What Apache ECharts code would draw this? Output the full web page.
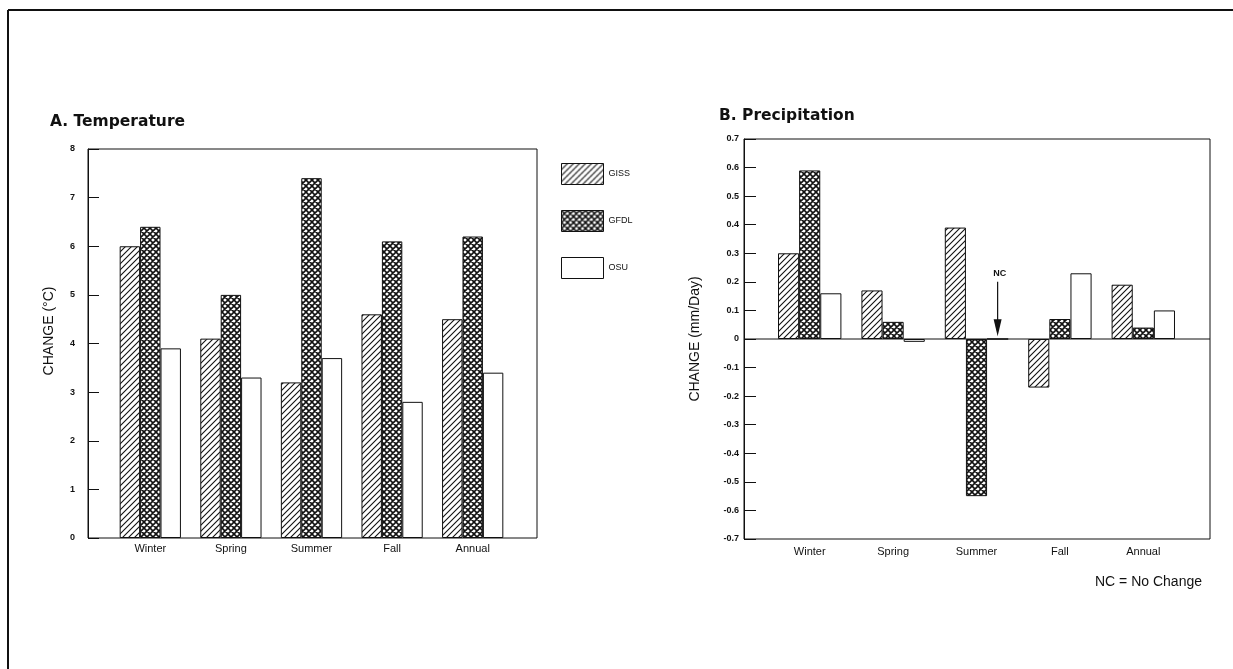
<!DOCTYPE html>
<html>
<head>
<meta charset="utf-8">
<script src="https://cdn.jsdelivr.net/npm/echarts@6/dist/echarts.min.js"></script>
<style>html,body{margin:0;padding:0;background:#fff}#c{width:1233px;height:669px}</style>
</head>
<body>
<div id="c"></div>
<script>
const categories = ['Winter', 'Spring', 'Summer', 'Fall', 'Annual'];
const seriesNames = ['GISS', 'GFDL', 'OSU'];
const tempGISS = [6.0, 4.1, 3.2, 4.6, 4.5];
const tempGFDL = [6.4, 5.0, 7.4, 6.1, 6.2];
const tempOSU  = [3.9, 3.3, 3.7, 2.8, 3.4];
const precGISS = [0.30, 0.17, 0.39, -0.17, 0.19];
const precGFDL = [0.59, 0.06, -0.55, 0.07, 0.04];
const precOSU  = [0.16, -0.01, 0, 0.23, 0.10];
const tempAxis = [0, 8, 1];        // min, max, interval
const precAxis = [-0.7, 0.7, 0.1]; // min, max, interval
const ncArrow = [0.2, 0.01];       // NC arrow from / to value (Summer, OSU)

const INK = '#111';
const FONT = '"Liberation Sans", Arial, sans-serif';
const TFONT = '"DejaVu Sans", "Liberation Sans", sans-serif';

function hatchPattern() {
  const s = 6, c = document.createElement('canvas');
  c.width = s; c.height = s;
  const g = c.getContext('2d');
  g.fillStyle = '#fff'; g.fillRect(0, 0, s, s);
  g.strokeStyle = INK; g.lineWidth = 1.1;
  g.beginPath();
  g.moveTo(0, s); g.lineTo(s, 0);
  g.moveTo(-1, 1); g.lineTo(1, -1);
  g.moveTo(s - 1, s + 1); g.lineTo(s + 1, s - 1);
  g.stroke();
  return c;
}
function crossPattern() {
  const s = 6, c = document.createElement('canvas');
  c.width = s; c.height = s;
  const g = c.getContext('2d');
  g.fillStyle = '#fff'; g.fillRect(0, 0, s, s);
  g.strokeStyle = INK; g.lineWidth = 1.6;
  g.beginPath();
  g.moveTo(0, s); g.lineTo(s, 0);
  g.moveTo(-1, 1); g.lineTo(1, -1);
  g.moveTo(s - 1, s + 1); g.lineTo(s + 1, s - 1);
  g.moveTo(0, 0); g.lineTo(s, s);
  g.moveTo(-1, s - 1); g.lineTo(1, s + 1);
  g.moveTo(s - 1, -1); g.lineTo(s + 1, 1);
  g.stroke();
  return c;
}
const fills = [
  { image: hatchPattern(), repeat: 'repeat' },
  { image: crossPattern(), repeat: 'repeat' },
  '#fff'
];

const chart = echarts.init(document.getElementById('c'), null, { renderer: 'canvas' });

function barSeries(name, data, idx, axisIdx) {
  return {
    name: name, type: 'bar', data: data,
    xAxisIndex: axisIdx, yAxisIndex: axisIdx,
    barGap: '0%', barCategoryGap: '24%',
    itemStyle: { color: fills[idx], borderColor: INK, borderWidth: 1 },
    emphasis: { disabled: true },
    animation: false
  };
}

const tickLabel = { color: INK, fontFamily: FONT, fontSize: 9, fontWeight: 'bold' };
const catLabel = { color: INK, fontFamily: FONT, fontSize: 11 };

chart.setOption({
  animation: false,
  backgroundColor: '#fff',
  title: [
    { text: 'A. Temperature', left: 50, top: 114, padding: 0,
      textStyle: { fontFamily: TFONT, fontSize: 15.5, fontWeight: 'bold', color: INK } },
    { text: 'B. Precipitation', left: 719, top: 108, padding: 0,
      textStyle: { fontFamily: TFONT, fontSize: 15.5, fontWeight: 'bold', color: INK } }
  ],
  legend: {
    data: seriesNames.map(n => ({ name: n, icon: 'rect' })), orient: 'vertical', left: 561, top: 163, padding: 0,
    itemWidth: 42, itemHeight: 21, itemGap: 25,
    itemStyle: { borderWidth: 1, borderColor: INK },
    textStyle: { fontFamily: FONT, fontSize: 9, color: INK },
    selectedMode: false
  },
  grid: [
    { left: 110, top: 149, width: 403, height: 389 },
    { left: 768, top: 139, width: 417, height: 400 }
  ],
  xAxis: [
    { type: 'category', data: categories, gridIndex: 0,
      axisLine: { show: false }, axisTick: { show: false },
      axisLabel: Object.assign({ margin: 5 }, catLabel) },
    { type: 'category', data: categories, gridIndex: 1, position: 'bottom',
      axisLine: { show: false, onZero: false }, axisTick: { show: false },
      axisLabel: Object.assign({ margin: 7 }, catLabel) }
  ],
  yAxis: [
    { type: 'value', gridIndex: 0, min: tempAxis[0], max: tempAxis[1], interval: tempAxis[2],
      offset: 22, splitLine: { show: false },
      axisLine: { show: true, lineStyle: { color: INK, width: 1 } },
      axisTick: { show: true, inside: true, length: 11, lineStyle: { color: INK } },
      axisLabel: Object.assign({ margin: 13 }, tickLabel) },
    { type: 'value', gridIndex: 1, min: precAxis[0], max: precAxis[1], interval: precAxis[2],
      offset: 24, splitLine: { show: false },
      name: 'CHANGE (mm/Day)', nameLocation: 'middle', nameGap: 42,
      nameTextStyle: { fontFamily: FONT, fontSize: 14, color: INK },
      axisLine: { show: true, lineStyle: { color: INK, width: 1 } },
      axisTick: { show: true, inside: true, length: 12, lineStyle: { color: INK } },
      axisLabel: Object.assign({ margin: 5, formatter: v => (Math.abs(v) < 1e-9 ? '0' : v.toFixed(1)) }, tickLabel) }
  ],
  series: [
    barSeries('GISS', tempGISS, 0, 0),
    barSeries('GFDL', tempGFDL, 1, 0),
    barSeries('OSU', tempOSU, 2, 0),
    barSeries('GISS', precGISS, 0, 1),
    barSeries('GFDL', precGFDL, 1, 1),
    barSeries('OSU', precOSU, 2, 1)
  ]
});

// decorations derived from the axes
const z0 = chart.convertToPixel({ gridIndex: 1 }, ['Summer', 0]);
const w0 = chart.convertToPixel({ gridIndex: 1 }, ['Winter', 0]);
const w1 = chart.convertToPixel({ gridIndex: 1 }, ['Spring', 0]);
const band = w1[0] - w0[0];
const barW = band * 0.76 / 3;
const arrowX = z0[0] + barW;
const aTop = chart.convertToPixel({ gridIndex: 1 }, ['Summer', ncArrow[0]])[1];
const aTip = chart.convertToPixel({ gridIndex: 1 }, ['Summer', ncArrow[1]])[1];
const zeroY = z0[1];

const tTop = chart.convertToPixel({ gridIndex: 0 }, ['Winter', tempAxis[1]])[1];
const tBot = chart.convertToPixel({ gridIndex: 0 }, ['Winter', tempAxis[0]])[1];
const pTop = chart.convertToPixel({ gridIndex: 1 }, ['Winter', precAxis[1]])[1];
const pBot = chart.convertToPixel({ gridIndex: 1 }, ['Winter', precAxis[0]])[1];

const line = { stroke: INK, lineWidth: 1 };
chart.setOption({
  graphic: [
    // outer frame
    { type: 'line', shape: { x1: 8, y1: 10, x2: 1233, y2: 10 }, style: { stroke: INK, lineWidth: 2 }, silent: true },
    { type: 'line', shape: { x1: 8, y1: 10, x2: 8, y2: 669 }, style: { stroke: INK, lineWidth: 2 }, silent: true },
    // panel A frame
    { type: 'rect', shape: { x: 88, y: tTop, width: 449, height: tBot - tTop }, style: { fill: null, stroke: INK, lineWidth: 1 }, silent: true, z: 10 },
    // panel B frame
    { type: 'rect', shape: { x: 744, y: pTop, width: 466, height: pBot - pTop }, style: { fill: null, stroke: INK, lineWidth: 1 }, silent: true, z: 10 },
    // zero line
    { type: 'line', shape: { x1: 744, y1: zeroY, x2: 1210, y2: zeroY }, style: line, silent: true, z: 10 },
    // y name panel A
    { type: 'text', x: 49, y: 331, rotation: Math.PI / 2,
      style: { text: 'CHANGE (°C)', fontFamily: FONT, fontSize: 14, fill: INK, align: 'center', verticalAlign: 'middle' }, silent: true },
    // NC arrow
    { type: 'line', shape: { x1: arrowX, y1: aTop, x2: arrowX, y2: aTip - 14 }, style: { stroke: INK, lineWidth: 1.2 }, silent: true, z: 10 },
    { type: 'polygon', shape: { points: [[arrowX - 4, aTip - 17], [arrowX + 4, aTip - 17], [arrowX, aTip]] }, style: { fill: INK }, silent: true, z: 10 },
    { type: 'text', x: arrowX + 2, y: aTop - 8,
      style: { text: 'NC', fontFamily: FONT, fontSize: 9, fontWeight: 'bold', fill: INK, align: 'center', verticalAlign: 'middle' }, silent: true },
    { type: 'text', x: 1095, y: 582,
      style: { text: 'NC = No Change', fontFamily: FONT, fontSize: 14, fill: INK, align: 'left', verticalAlign: 'middle' }, silent: true }
  ]
});
</script>
</body>
</html>
